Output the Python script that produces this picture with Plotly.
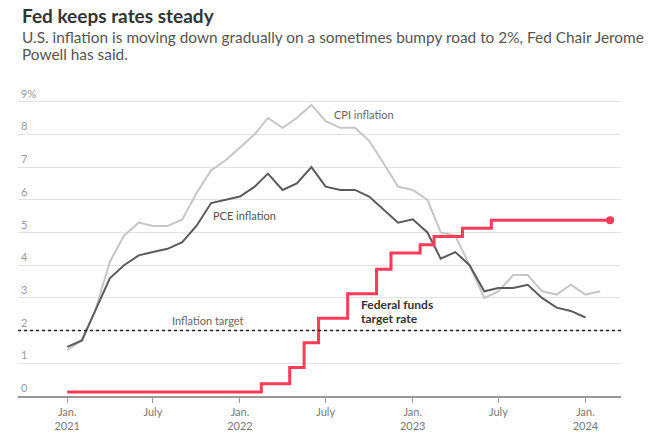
import pandas as pd
import plotly.graph_objects as go

# monthly readings, Jan 2021 onward (percent, year over year)
cpi_months = pd.date_range("2021-01-01", "2024-02-01", freq="MS")
cpi = [1.4, 1.7, 2.6, 4.1, 4.9, 5.3, 5.2, 5.2, 5.4, 6.2, 6.9, 7.2,
       7.6, 8.0, 8.5, 8.2, 8.5, 8.9, 8.4, 8.2, 8.2, 7.8, 7.1, 6.4,
       6.3, 6.0, 5.0, 4.9, 4.0, 3.0, 3.2, 3.7, 3.7, 3.2, 3.1, 3.4,
       3.1, 3.2]

pce_months = pd.date_range("2021-01-01", "2024-01-01", freq="MS")
pce = [1.5, 1.7, 2.6, 3.6, 4.0, 4.3, 4.4, 4.5, 4.7, 5.2, 5.9, 6.0,
       6.1, 6.4, 6.8, 6.3, 6.5, 7.0, 6.4, 6.3, 6.3, 6.1, 5.7, 5.3,
       5.4, 5.0, 4.2, 4.4, 4.0, 3.2, 3.3, 3.3, 3.4, 3.0, 2.7, 2.6,
       2.4]

# fed funds target range midpoint
fed_dates = list(pd.date_range("2021-01-01", "2024-02-01", freq="MS")) + [pd.Timestamp("2024-02-22")]
fed = [0.125] * 14 + [0.375, 0.375, 0.875, 1.625, 2.375, 2.375, 3.125, 3.125,
       3.875, 4.375, 4.375, 4.625, 4.875, 4.875, 5.125, 5.125,
       5.375, 5.375, 5.375, 5.375, 5.375, 5.375, 5.375, 5.375, 5.375]

tick_dates = ["2021-01-01", "2021-07-01", "2022-01-01", "2022-07-01",
              "2023-01-01", "2023-07-01", "2024-01-01"]
tick_labels = ["Jan.<br>2021", "July", "Jan.<br>2022", "July",
               "Jan.<br>2023", "July", "Jan.<br>2024"]
y_ticks = list(range(10))
y_labels = [str(v) for v in y_ticks[:-1]] + ["9%"]

RED = "#ff3b57"
FONT = "Lato"

fig = go.Figure()

fig.add_trace(go.Scatter(x=cpi_months, y=cpi, mode="lines",
                         line=dict(color="#c6c6c6", width=2), hoverinfo="skip"))
fig.add_trace(go.Scatter(x=pce_months, y=pce, mode="lines",
                         line=dict(color="#5b5b5b", width=2), hoverinfo="skip"))
fig.add_trace(go.Scatter(x=fed_dates, y=fed, mode="lines",
                         line=dict(color=RED, width=3, shape="hvh"), hoverinfo="skip"))
fig.add_trace(go.Scatter(x=fed_dates[-1:], y=fed[-1:], mode="markers",
                         marker=dict(color=RED, size=8), hoverinfo="skip"))

# 2% target
fig.add_hline(y=2, line=dict(color="#222222", width=1.5, dash="dot"))

notes = [
    ("2022-07-14", 8.6, "CPI inflation", "#666666", 11),
    ("2021-10-31", 5.52, "PCE inflation", "#555555", 11),
    ("2022-09-09", 2.79, "<b>Federal funds</b>", "#333333", 12),
    ("2022-09-09", 2.37, "<b>target rate</b>", "#333333", 12),
    ("2021-08-07", 2.30, "Inflation target", "#666666", 11),
]
for x, y, txt, col, size in notes:
    fig.add_annotation(x=x, y=y, text=txt, showarrow=False, xanchor="left",
                       yanchor="middle", align="left",
                       font=dict(family=FONT, size=size, color=col))

# title + subtitle (paper y: 0 -> 402px, 1 -> 82px)
heads = [
    (1.2125, "<b>Fed keeps rates steady</b>", 19, "#333333"),
    (1.144, "U.S. inflation is moving down gradually on a sometimes bumpy road to 2%, Fed Chair Jerome", 15.4, "#555555"),
    (1.088, "Powell has said.", 15.4, "#555555"),
]
for y, txt, size, col in heads:
    fig.add_annotation(xref="paper", yref="paper", x=0.003, y=y, xanchor="left",
                       yanchor="middle", showarrow=False, align="left", text=txt,
                       font=dict(family=FONT, size=size, color=col))

fig.update_layout(
    width=662, height=444,
    margin=dict(l=18, r=41, t=82, b=42),
    paper_bgcolor="white", plot_bgcolor="white",
    showlegend=False,
    font=dict(family=FONT),
    xaxis=dict(type="date", range=["2020-09-19", "2024-03-16"],
               tickvals=tick_dates, ticktext=tick_labels,
               ticks="outside", ticklen=5, tickcolor="#999999",
               showgrid=False, showline=True, linecolor="#999999", linewidth=1.5,
               tickfont=dict(size=11, color="#777777"), zeroline=False),
    yaxis=dict(range=[0, 9.6], tickvals=y_ticks, ticktext=y_labels,
               ticklabelposition="inside top", showgrid=True,
               gridcolor="#e2e2e2", gridwidth=1, zeroline=False,
               showline=False, ticks="",
               tickfont=dict(size=11, color="#999999")),
)

# drop the browser's default body margin so the figure sits at 0,0
fig.write_html("out.html", config={"displayModeBar": False},
               post_script="document.body.style.margin = '0';")
